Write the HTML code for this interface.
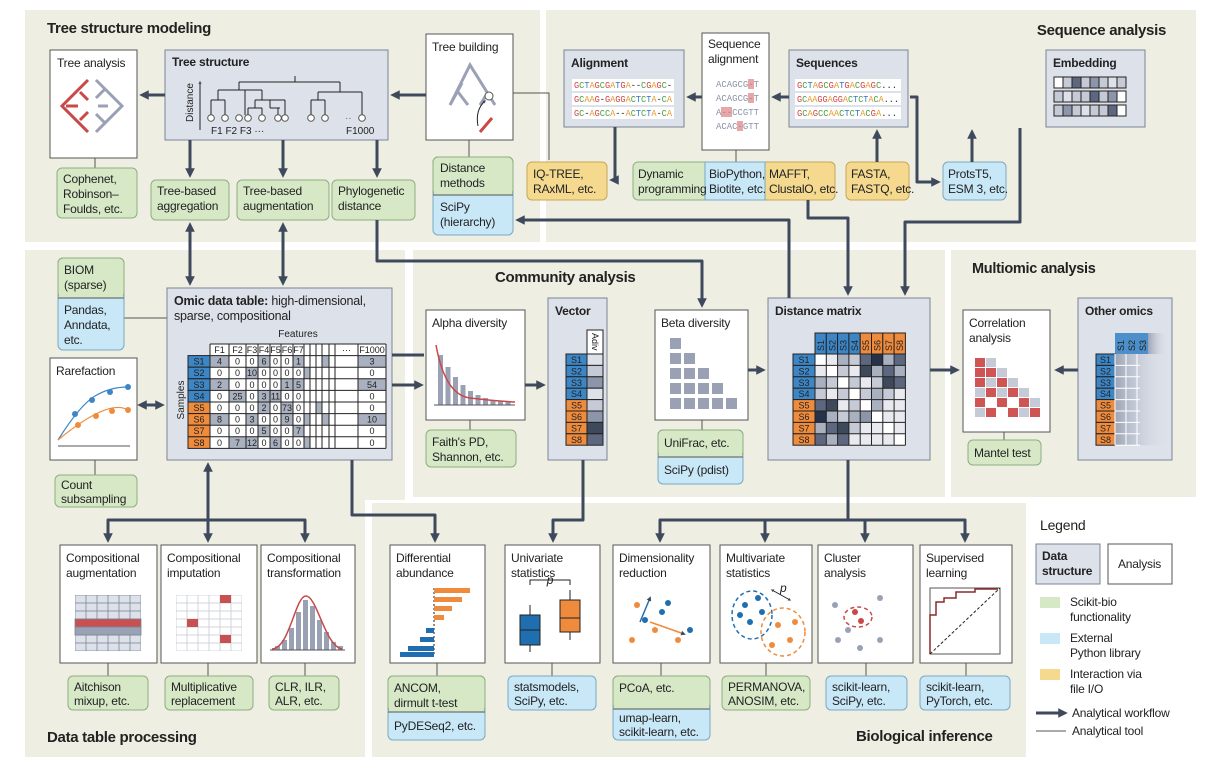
<!DOCTYPE html>
<html><head><meta charset="utf-8">
<style>
html,body{margin:0;padding:0;background:#fff;}
svg{display:block;font-family:"Liberation Sans",Arial,sans-serif;}
text{font-size:12px;fill:#222;letter-spacing:-0.2px;}
.h{font-weight:bold;font-size:15px;letter-spacing:-0.3px;}
.bt{font-weight:bold;}
.s9{font-size:9px;letter-spacing:0;}
.s10{font-size:10px;letter-spacing:0;}
.m{font-family:"Liberation Mono",monospace;font-size:9.5px;letter-spacing:0;}
.be{fill:#eeeee2;}
.g{fill:#d6e8c6;stroke:#8fae7d;}
.b{fill:#c8e7f7;stroke:#7aa9c3;}
.y{fill:#f4d98f;stroke:#c9a756;}
.w{fill:#fff;stroke:#555;}
.d{fill:#dde1ea;stroke:#7a8496;}
.a{fill:none;stroke:#3e4a5c;stroke-width:3;stroke-linejoin:round;}
.t{fill:none;stroke:#555;stroke-width:1;}
.k{fill:none;stroke:#222;stroke-width:1;}
.bl{fill:#3d86c6;stroke:#222;}
.or{fill:#ef8b3c;stroke:#222;}
.gr{fill:#a9b0bf;}
.R{fill:#d24545;}.N{fill:#4aa043;}.U{fill:#2f78c2;}.O{fill:#e49a2c;}
.L{fill:#e8eaf0}.M{fill:#c5cad6}.NN{fill:#a9b0bf}.D{fill:#8c95a9}.E{fill:#5d6880}.F{fill:#3e4a5c}.K{fill:#26324a}.W{fill:#fff}
</style>
</head><body>
<svg width="1216" height="772" viewBox="0 0 1216 772" xmlns="http://www.w3.org/2000/svg">
<defs>
<marker id="a" viewBox="0 0 10 10" refX="6" refY="5" markerWidth="3.2" markerHeight="3.2" orient="auto-start-reverse"><path d="M0,0L10,5L0,10z" fill="#3e4a5c"/></marker>
<linearGradient id="fade" x1="0" x2="1"><stop offset="0" stop-color="#8c95a9" stop-opacity="0.8"/><stop offset="1" stop-color="#dde1ea" stop-opacity="0"/></linearGradient>
<pattern id="grid1" width="11" height="8" patternUnits="userSpaceOnUse" x="75" y="595"><rect width="11" height="8" fill="#dde1ea" stroke="#7a8496" stroke-width="0.8"/></pattern>
<pattern id="grid2" width="11" height="8" patternUnits="userSpaceOnUse" x="176" y="595"><rect width="11" height="8" fill="#fff" stroke="#c5cad6" stroke-width="0.8"/></pattern>
</defs>

<!-- panels -->
<rect class="be" x="25" y="10" width="515" height="232"/>
<rect class="be" x="546" y="10" width="650" height="232"/>
<rect class="be" x="25" y="250" width="380" height="250"/>
<rect class="be" x="25" y="250" width="340" height="507"/>
<rect class="be" x="413" y="250" width="532" height="247"/>
<rect class="be" x="951" y="250" width="245" height="247"/>
<rect class="be" x="372" y="503" width="654" height="254"/>
<text class="h" x="47" y="33">Tree structure modeling</text>
<text class="h" x="1166" y="35" text-anchor="end">Sequence analysis</text>
<text class="h" x="495" y="282">Community analysis</text>
<text class="h" x="972" y="273" style="font-size:14.5px">Multiomic analysis</text>
<text class="h" x="47" y="742">Data table processing</text>
<text class="h" x="856" y="741">Biological inference</text>

<!-- thin tool lines -->
<path class="t" d="M95,158V168M469,140V157M513,93H549V160M736,150V162M124,318H167M95,460V475M1004,432V440M702,420V430M470,420V430M108,663V676M208,663V676M305,663V676M437,663V676M552,663V676M661,663V676M766,663V676M866,663V676M966,663V676"/>

<!-- ===== Tree panel ===== -->
<rect class="w" x="50" y="50" width="87" height="108"/>
<text x="57" y="67">Tree analysis</text>
<path d="M88,80L62,106L88,132M70,98L80,88M70,114L80,124M66,106H78M80,92L88,100M80,120L88,112" fill="none" stroke="#c94848" stroke-width="3"/>
<path d="M96,80L122,106L96,132M104,90L96,98M104,122L96,114M108,106H98M114,98L106,90M114,114L106,122" fill="none" stroke="#9aa1b4" stroke-width="3"/>

<rect class="d" x="165" y="50" width="223" height="90"/>
<text class="bt" x="172" y="66">Tree structure</text>
<path d="M200,130V82" class="k" marker-end="url(#a)"/>
<text class="s10" x="193" y="122" transform="rotate(-90 193 122)">Distance</text>
<path class="k" d="M295,76V82M239,82H340M239,82V90M218,90H262M218,90V100M211,100H225M211,100V115M225,100V115M245,90V115M262,90V100M255,100H285M255,100V108M285,100V115M248,108H262M248,108V115M262,108V115M270,100V108M270,108H280M278,108V115M340,82V92M318,92H362M318,92V100M311,100H325M311,100V115M325,100V115M362,92V115"/>
<g fill="#fff" stroke="#555"><circle cx="211" cy="118" r="3.3"/><circle cx="225" cy="118" r="3.3"/><circle cx="239" cy="118" r="3.3"/><circle cx="248" cy="118" r="3.3"/><circle cx="262" cy="118" r="3.3"/><circle cx="278" cy="118" r="3.3"/><circle cx="285" cy="118" r="3.3"/><circle cx="311" cy="118" r="3.3"/><circle cx="325" cy="118" r="3.3"/><circle cx="362" cy="118" r="3.3"/></g>
<text class="s10" x="345" y="121" style="fill:#666">··</text>
<text class="s10" x="211" y="134">F1  F2  F3  ···</text>
<text class="s10" x="346" y="134">F1000</text>

<rect class="w" x="426" y="34" width="87" height="106"/>
<text x="432" y="51">Tree building</text>
<path d="M450,105L470,65L495,105M462,83L450,105M458,92L468,105M488,92L480,105" fill="none" stroke="#9aa1b4" stroke-width="3"/>
<circle cx="489" cy="96" r="4" fill="#fff" stroke="#555"/>
<path class="k" d="M478,126Q475,110,485,101" marker-end="url(#a)"/>
<path d="M480,132L492,118" stroke="#c94848" stroke-width="3"/>

<rect class="g" x="57" y="168" width="80" height="50" rx="5"/>
<text x="63" y="183">Cophenet,</text><text x="63" y="198">Robinson–</text><text x="63" y="213">Foulds, etc.</text>
<rect class="g" x="151" y="180" width="78" height="40" rx="5"/>
<text x="157" y="195">Tree-based</text><text x="157" y="210">aggregation</text>
<rect class="g" x="237" y="180" width="92" height="40" rx="5"/>
<text x="243" y="195">Tree-based</text><text x="243" y="210">augmentation</text>
<rect class="g" x="332" y="180" width="83" height="40" rx="5"/>
<text x="338" y="195">Phylogenetic</text><text x="338" y="210">distance</text>
<rect class="b" x="433" y="157" width="80" height="78" rx="5"/>
<rect class="g" x="433" y="157" width="80" height="38" rx="5"/>
<rect fill="#d6e8c6" x="434" y="188" width="78" height="7"/>
<path class="t" d="M433,195H513"/>
<text x="440" y="172">Distance</text><text x="440" y="187">methods</text>
<text x="440" y="211">SciPy</text><text x="440" y="226">(hierarchy)</text>
<rect class="y" x="527" y="162" width="80" height="38" rx="5"/>
<text x="533" y="178">IQ-TREE,</text><text x="533" y="193">RAxML, etc.</text>

<!-- ===== Sequence panel ===== -->
<rect class="d" x="564" y="50" width="120" height="77"/>
<text class="bt" x="571" y="67">Alignment</text>
<rect fill="#fff" x="572" y="79" width="102" height="12"/><rect fill="#fff" x="572" y="93" width="102" height="12"/><rect fill="#fff" x="572" y="107" width="102" height="12"/>
<text class="m" x="574" y="88" textLength="98" lengthAdjust="spacingAndGlyphs"><tspan class="R">G</tspan><tspan class="N">C</tspan><tspan class="U">T</tspan><tspan class="O">A</tspan><tspan class="R">G</tspan><tspan class="N">C</tspan><tspan class="R">G</tspan><tspan class="O">A</tspan><tspan class="U">T</tspan><tspan class="R">G</tspan><tspan class="O">A</tspan>--<tspan class="N">C</tspan><tspan class="R">G</tspan><tspan class="O">A</tspan><tspan class="R">G</tspan><tspan class="N">C</tspan>-</text>
<text class="m" x="574" y="102" textLength="98" lengthAdjust="spacingAndGlyphs"><tspan class="R">G</tspan><tspan class="N">C</tspan><tspan class="O">AA</tspan><tspan class="R">G</tspan>-<tspan class="R">G</tspan><tspan class="O">A</tspan><tspan class="R">GG</tspan><tspan class="O">A</tspan><tspan class="N">C</tspan><tspan class="U">T</tspan><tspan class="N">C</tspan><tspan class="U">T</tspan><tspan class="O">A</tspan>-<tspan class="N">C</tspan><tspan class="O">A</tspan></text>
<text class="m" x="574" y="116" textLength="98" lengthAdjust="spacingAndGlyphs"><tspan class="R">G</tspan><tspan class="N">C</tspan>-<tspan class="O">A</tspan><tspan class="R">G</tspan><tspan class="N">CC</tspan><tspan class="O">A</tspan>--<tspan class="O">A</tspan><tspan class="N">C</tspan><tspan class="U">T</tspan><tspan class="N">C</tspan><tspan class="U">T</tspan><tspan class="O">A</tspan>-<tspan class="N">C</tspan><tspan class="O">A</tspan></text>

<rect class="w" x="702" y="33" width="67" height="117"/>
<text x="708" y="48">Sequence</text><text x="708" y="63">alignment</text>
<rect fill="#e8a6a6" x="748" y="79" width="6" height="10"/><rect fill="#e8a6a6" x="748" y="93" width="6" height="10"/><rect fill="#e8a6a6" x="721" y="107" width="11" height="10"/><rect fill="#e8a6a6" x="737" y="121" width="6" height="10"/>
<text class="m" x="716" y="87" textLength="43" lengthAdjust="spacingAndGlyphs" style="fill:#8a93a8">ACAGCG-T</text>
<text class="m" x="716" y="101" textLength="43" lengthAdjust="spacingAndGlyphs" style="fill:#8a93a8">ACAGCG-T</text>
<text class="m" x="716" y="115" textLength="43" lengthAdjust="spacingAndGlyphs" style="fill:#8a93a8">A--CCGTT</text>
<text class="m" x="716" y="129" textLength="43" lengthAdjust="spacingAndGlyphs" style="fill:#8a93a8">ACAC-GTT</text>

<rect class="d" x="789" y="50" width="119" height="77"/>
<text class="bt" x="796" y="67">Sequences</text>
<rect fill="#fff" x="795" y="79" width="106" height="12"/><rect fill="#fff" x="795" y="93" width="106" height="12"/><rect fill="#fff" x="795" y="107" width="106" height="12"/>
<text class="m" x="797" y="88" textLength="100" lengthAdjust="spacingAndGlyphs"><tspan class="R">G</tspan><tspan class="N">C</tspan><tspan class="U">T</tspan><tspan class="O">A</tspan><tspan class="R">G</tspan><tspan class="N">C</tspan><tspan class="R">G</tspan><tspan class="O">A</tspan><tspan class="U">T</tspan><tspan class="R">G</tspan><tspan class="O">A</tspan><tspan class="N">C</tspan><tspan class="R">G</tspan><tspan class="O">A</tspan><tspan class="R">G</tspan><tspan class="N">C</tspan>...</text>
<text class="m" x="797" y="102" textLength="102" lengthAdjust="spacingAndGlyphs"><tspan class="R">G</tspan><tspan class="N">C</tspan><tspan class="O">AA</tspan><tspan class="R">GG</tspan><tspan class="O">A</tspan><tspan class="R">GG</tspan><tspan class="O">A</tspan><tspan class="N">C</tspan><tspan class="U">T</tspan><tspan class="N">C</tspan><tspan class="U">T</tspan><tspan class="O">A</tspan><tspan class="N">C</tspan><tspan class="O">A</tspan>...</text>
<text class="m" x="797" y="116" textLength="100" lengthAdjust="spacingAndGlyphs"><tspan class="R">G</tspan><tspan class="N">C</tspan><tspan class="O">A</tspan><tspan class="R">G</tspan><tspan class="N">CC</tspan><tspan class="O">AA</tspan><tspan class="N">C</tspan><tspan class="U">T</tspan><tspan class="N">C</tspan><tspan class="U">T</tspan><tspan class="O">A</tspan><tspan class="N">C</tspan><tspan class="R">G</tspan><tspan class="O">A</tspan>...</text>

<rect class="d" x="1046" y="50" width="99" height="77"/>
<text class="bt" x="1053" y="67">Embedding</text>
<rect fill="#c5cad6" x="1054" y="77" width="72" height="11"/><rect fill="#c5cad6" x="1054" y="91" width="72" height="11"/><rect fill="#c5cad6" x="1054" y="105" width="72" height="11"/>
<rect fill="#fff" x="1054" y="77" width="9" height="11"/><rect fill="#5d6880" x="1072" y="77" width="9" height="11"/><rect fill="#8c95a9" x="1090" y="77" width="9" height="11"/><rect fill="#dde1ea" x="1108" y="77" width="9" height="11"/>
<rect fill="#dde1ea" x="1063" y="91" width="9" height="11"/><rect fill="#5d6880" x="1090" y="91" width="9" height="11"/><rect fill="#8c95a9" x="1108" y="91" width="9" height="11"/><rect fill="#fff" x="1117" y="91" width="9" height="11"/>
<rect fill="#8c95a9" x="1063" y="105" width="9" height="11"/><rect fill="#dde1ea" x="1081" y="105" width="9" height="11"/><rect fill="#5d6880" x="1108" y="105" width="9" height="11"/><rect fill="#fff" x="1117" y="105" width="9" height="11"/>
<path class="k" d="M1054,77h72v11h-72zM1054,91h72v11h-72zM1054,105h72v11h-72zM1063,77V88M1072,77V88M1081,77V88M1090,77V88M1099,77V88M1108,77V88M1117,77V88M1063,91V102M1072,91V102M1081,91V102M1090,91V102M1099,91V102M1108,91V102M1117,91V102M1063,105V116M1072,105V116M1081,105V116M1090,105V116M1099,105V116M1108,105V116M1117,105V116"/>

<rect class="g" x="633" y="162" width="202" height="38" rx="5"/>
<rect class="y" x="765" y="162" width="70" height="38" rx="5"/>
<rect fill="#f4d98f" x="765.5" y="162.5" width="10" height="37"/>
<rect class="b" x="705" y="162" width="60" height="38"/>
<text x="638" y="178">Dynamic</text><text x="638" y="193">programming</text>
<text x="709" y="178">BioPython,</text><text x="709" y="193">Biotite, etc.</text>
<text x="769" y="178">MAFFT,</text><text x="769" y="193">ClustalO, etc.</text>
<rect class="y" x="846" y="162" width="63" height="38" rx="5"/>
<text x="851" y="178">FASTA,</text><text x="851" y="193">FASTQ, etc.</text>
<rect class="b" x="943" y="162" width="63" height="38" rx="5"/>
<text x="948" y="178">ProtsT5,</text><text x="948" y="193">ESM 3, etc.</text>

<!-- ===== Data table panel ===== -->
<rect class="b" x="58" y="258" width="66" height="92" rx="5"/>
<rect class="g" x="58" y="258" width="66" height="40" rx="5"/>
<rect fill="#d6e8c6" x="59" y="290" width="64" height="8"/>
<path class="t" d="M58,298H124"/>
<text x="64" y="274">BIOM</text><text x="64" y="289">(sparse)</text>
<text x="64" y="314">Pandas,</text><text x="64" y="329">Anndata,</text><text x="64" y="344">etc.</text>

<rect class="d" x="167" y="288" width="225" height="172"/>
<text x="174" y="305" style="font-size:12.5px"><tspan class="bt">Omic data table:</tspan> high-dimensional,</text>
<text x="174" y="320" style="font-size:12.5px">sparse, compositional</text>
<text class="s10" x="298" y="337" text-anchor="middle">Features</text>
<text class="s10" x="184" y="400" text-anchor="middle" transform="rotate(-90 184 400)">Samples</text>
<rect fill="#fff" x="210" y="344" width="176" height="104.4"/>
<g class="gr">
<rect x="210" y="355.6" width="19" height="11.6"/><rect x="258" y="355.6" width="12" height="11.6"/><rect x="293" y="355.6" width="11" height="11.6"/><rect x="358" y="355.6" width="28" height="11.6"/><rect x="322" y="355.6" width="7" height="11.6"/>
<rect x="246" y="367.2" width="12" height="11.6"/><rect x="304" y="367.2" width="6" height="11.6"/>
<rect x="210" y="378.8" width="19" height="11.6"/><rect x="281" y="378.8" width="12" height="11.6"/><rect x="293" y="378.8" width="11" height="11.6"/><rect x="358" y="378.8" width="28" height="11.6"/>
<rect x="229" y="390.4" width="17" height="11.6"/><rect x="258" y="390.4" width="12" height="11.6"/><rect x="270" y="390.4" width="11" height="11.6"/>
<rect x="258" y="402" width="12" height="11.6"/><rect x="281" y="402" width="12" height="11.6"/><rect x="316" y="402" width="6" height="11.6"/>
<rect x="210" y="413.6" width="19" height="11.6"/><rect x="246" y="413.6" width="12" height="11.6"/><rect x="281" y="413.6" width="12" height="11.6"/><rect x="358" y="413.6" width="28" height="11.6"/><rect x="304" y="413.6" width="6" height="11.6"/><rect x="322" y="413.6" width="7" height="11.6"/>
<rect x="258" y="425.2" width="12" height="11.6"/><rect x="293" y="425.2" width="11" height="11.6"/>
<rect x="229" y="436.8" width="17" height="11.6"/><rect x="246" y="436.8" width="12" height="11.6"/><rect x="270" y="436.8" width="11" height="11.6"/><rect x="304" y="436.8" width="6" height="11.6"/>
</g>
<rect class="bl" x="188" y="355.6" width="22" height="11.6"/><rect class="bl" x="188" y="367.2" width="22" height="11.6"/><rect class="bl" x="188" y="378.8" width="22" height="11.6"/><rect class="bl" x="188" y="390.4" width="22" height="11.6"/>
<rect class="or" x="188" y="402" width="22" height="11.6"/><rect class="or" x="188" y="413.6" width="22" height="11.6"/><rect class="or" x="188" y="425.2" width="22" height="11.6"/><rect class="or" x="188" y="436.8" width="22" height="11.6"/>
<path class="k" d="M210,344H386M210,355.6H386M210,367.2H386M210,378.8H386M210,390.4H386M210,402H386M210,413.6H386M210,425.2H386M210,436.8H386M210,448.4H386M210,344V448.4M229,344V448.4M246,344V448.4M258,344V448.4M270,344V448.4M281,344V448.4M293,344V448.4M304,344V448.4M310,344V448.4M316,344V448.4M322,344V448.4M329,344V448.4M335,344V448.4M358,344V448.4M386,344V448.4"/>
<g text-anchor="middle">
<text class="s9" y="353"><tspan x="219.5">F1</tspan><tspan x="237.5">F2</tspan><tspan x="252">F3</tspan><tspan x="264">F4</tspan><tspan x="275.5">F5</tspan><tspan x="287">F6</tspan><tspan x="298.5">F7</tspan><tspan x="346.5">···</tspan><tspan x="372">F1000</tspan></text>
<text class="s9" y="364.6"><tspan x="199">S1</tspan><tspan x="219.5">4</tspan><tspan x="237.5">0</tspan><tspan x="252">0</tspan><tspan x="264">6</tspan><tspan x="275.5">0</tspan><tspan x="287">0</tspan><tspan x="298.5">1</tspan><tspan x="372">3</tspan></text>
<text class="s9" y="376.2"><tspan x="199">S2</tspan><tspan x="219.5">0</tspan><tspan x="237.5">0</tspan><tspan x="252">10</tspan><tspan x="264">0</tspan><tspan x="275.5">0</tspan><tspan x="287">0</tspan><tspan x="298.5">0</tspan><tspan x="372">0</tspan></text>
<text class="s9" y="387.8"><tspan x="199">S3</tspan><tspan x="219.5">2</tspan><tspan x="237.5">0</tspan><tspan x="252">0</tspan><tspan x="264">0</tspan><tspan x="275.5">0</tspan><tspan x="287">1</tspan><tspan x="298.5">5</tspan><tspan x="372">54</tspan></text>
<text class="s9" y="399.4"><tspan x="199">S4</tspan><tspan x="219.5">0</tspan><tspan x="237.5">25</tspan><tspan x="252">0</tspan><tspan x="264">3</tspan><tspan x="275.5">11</tspan><tspan x="287">0</tspan><tspan x="298.5">0</tspan><tspan x="372">0</tspan></text>
<text class="s9" y="411"><tspan x="199">S5</tspan><tspan x="219.5">0</tspan><tspan x="237.5">0</tspan><tspan x="252">0</tspan><tspan x="264">2</tspan><tspan x="275.5">0</tspan><tspan x="287">73</tspan><tspan x="298.5">0</tspan><tspan x="372">0</tspan></text>
<text class="s9" y="422.6"><tspan x="199">S6</tspan><tspan x="219.5">8</tspan><tspan x="237.5">0</tspan><tspan x="252">3</tspan><tspan x="264">0</tspan><tspan x="275.5">0</tspan><tspan x="287">9</tspan><tspan x="298.5">0</tspan><tspan x="372">10</tspan></text>
<text class="s9" y="434.2"><tspan x="199">S7</tspan><tspan x="219.5">0</tspan><tspan x="237.5">0</tspan><tspan x="252">0</tspan><tspan x="264">5</tspan><tspan x="275.5">0</tspan><tspan x="287">0</tspan><tspan x="298.5">7</tspan><tspan x="372">0</tspan></text>
<text class="s9" y="445.8"><tspan x="199">S8</tspan><tspan x="219.5">0</tspan><tspan x="237.5">7</tspan><tspan x="252">12</tspan><tspan x="264">0</tspan><tspan x="275.5">6</tspan><tspan x="287">0</tspan><tspan x="298.5">0</tspan><tspan x="372">0</tspan></text>
</g>

<rect class="w" x="50" y="358" width="87" height="102"/>
<text x="56" y="375">Rarefaction</text>
<path class="t" d="M58,446H130"/>
<path d="M58,440Q80,405,95,396T128,387" fill="none" stroke="#3d86c6" stroke-width="1.2"/>
<path d="M58,440Q82,420,100,412T128,410" fill="none" stroke="#ef8b3c" stroke-width="1.2"/>
<g fill="#3d86c6"><circle cx="75" cy="414" r="3"/><circle cx="92" cy="400" r="3"/><circle cx="110" cy="392" r="3"/><circle cx="128" cy="387" r="3"/></g>
<g fill="#ef8b3c"><circle cx="78" cy="425" r="3"/><circle cx="96" cy="416" r="3"/><circle cx="112" cy="411" r="3"/><circle cx="128" cy="410" r="3"/></g>
<rect class="g" x="55" y="475" width="82" height="32" rx="5"/>
<text x="61" y="489">Count</text><text x="61" y="503">subsampling</text>

<!-- compositional -->
<rect class="w" x="60" y="545" width="97" height="118"/>
<text x="66" y="562">Compositional</text><text x="66" y="577">augmentation</text>
<rect x="75" y="595" width="66" height="56" fill="url(#grid1)"/>
<rect x="75" y="619" width="66" height="8" fill="#c95050" stroke="#7a8496" stroke-width="0.8"/>
<rect x="75" y="627" width="66" height="8" fill="#9aa1b4" stroke="#7a8496" stroke-width="0.8"/>
<rect class="w" x="161" y="545" width="96" height="118"/>
<text x="167" y="562">Compositional</text><text x="167" y="577">imputation</text>
<rect x="176" y="595" width="66" height="56" fill="url(#grid2)"/>
<rect fill="#c95050" x="220" y="595" width="11" height="8"/><rect fill="#c95050" x="187" y="619" width="11" height="8"/><rect fill="#c95050" x="220" y="635" width="11" height="8"/>
<rect class="w" x="261" y="545" width="94" height="118"/>
<text x="267" y="562">Compositional</text><text x="267" y="577">transformation</text>
<g fill="#9aa1b4"><rect x="275" y="646" width="5" height="4"/><rect x="282" y="640" width="5" height="10"/><rect x="289" y="628" width="5" height="22"/><rect x="296" y="612" width="5" height="38"/><rect x="303" y="600" width="5" height="50"/><rect x="310" y="606" width="5" height="44"/><rect x="317" y="620" width="5" height="30"/><rect x="324" y="632" width="5" height="18"/><rect x="331" y="642" width="5" height="8"/><rect x="338" y="646" width="5" height="4"/></g>
<path d="M272,649C290,648,295,596,306,596S325,646,342,649" fill="none" stroke="#c94848" stroke-width="1.5"/>
<path class="t" d="M270,650H345"/>
<rect class="g" x="68" y="676" width="80" height="34" rx="5"/><text x="74" y="691">Aitchison</text><text x="74" y="705">mixup, etc.</text>
<rect class="g" x="165" y="676" width="88" height="34" rx="5"/><text x="171" y="691">Multiplicative</text><text x="171" y="705">replacement</text>
<rect class="g" x="269" y="676" width="70" height="34" rx="5"/><text x="275" y="691">CLR, ILR,</text><text x="275" y="705">ALR, etc.</text>

<!-- ===== Community ===== -->
<rect class="w" x="426" y="310" width="99" height="110"/>
<text x="432" y="327">Alpha diversity</text>
<g fill="#9aa1b4"><rect x="438" y="355" width="5" height="50"/><rect x="445.5" y="367" width="5" height="38"/><rect x="453" y="377" width="5" height="28"/><rect x="460.5" y="385" width="5" height="20"/><rect x="468" y="391" width="5" height="14"/><rect x="475.5" y="395" width="5" height="10"/><rect x="483" y="398" width="5" height="7"/><rect x="490.5" y="400" width="5" height="5"/><rect x="498" y="401" width="5" height="4"/><rect x="505.5" y="402" width="5" height="3"/></g>
<path d="M436,345Q445,395,470,398T515,402" fill="none" stroke="#c94848" stroke-width="1.5"/>
<path class="t" d="M434,405H515"/>
<rect class="g" x="426" y="430" width="90" height="37" rx="5"/><text x="432" y="446">Faith's PD,</text><text x="432" y="461">Shannon, etc.</text>

<rect class="d" x="548" y="298" width="59" height="162"/>
<text class="bt" x="555" y="315">Vector</text>
<rect fill="#fff" stroke="#222" x="587" y="330" width="16" height="24"/>
<text class="s9" x="592" y="333" transform="rotate(90 592 333)">Adiv</text>
<rect class="bl" x="566" y="354" width="21" height="11.4"/><rect class="bl" x="566" y="365.4" width="21" height="11.4"/><rect class="bl" x="566" y="376.8" width="21" height="11.4"/><rect class="bl" x="566" y="388.2" width="21" height="11.4"/>
<rect class="or" x="566" y="399.6" width="21" height="11.4"/><rect class="or" x="566" y="411" width="21" height="11.4"/><rect class="or" x="566" y="422.4" width="21" height="11.4"/><rect class="or" x="566" y="433.8" width="21" height="11.4"/>
<g stroke="#222"><rect fill="#dde1ea" x="587" y="354" width="16" height="11.4"/><rect fill="#c5cad6" x="587" y="365.4" width="16" height="11.4"/><rect fill="#8c95a9" x="587" y="376.8" width="16" height="11.4"/><rect fill="#dde1ea" x="587" y="388.2" width="16" height="11.4"/><rect fill="#c5cad6" x="587" y="399.6" width="16" height="11.4"/><rect fill="#8c95a9" x="587" y="411" width="16" height="11.4"/><rect fill="#3e4a5c" x="587" y="422.4" width="16" height="11.4"/><rect fill="#5d6880" x="587" y="433.8" width="16" height="11.4"/></g>
<text class="s9" text-anchor="middle"><tspan x="576.5" y="363">S1</tspan><tspan x="576.5" y="374.4">S2</tspan><tspan x="576.5" y="385.8">S3</tspan><tspan x="576.5" y="397.2">S4</tspan><tspan x="576.5" y="408.6">S5</tspan><tspan x="576.5" y="420">S6</tspan><tspan x="576.5" y="431.4">S7</tspan><tspan x="576.5" y="442.8">S8</tspan></text>

<rect class="w" x="655" y="310" width="93" height="110"/>
<text x="661" y="327">Beta diversity</text>
<g fill="#9aa1b4"><rect x="670" y="338" width="11" height="11"/><rect x="670" y="353" width="11" height="11"/><rect x="684" y="353" width="11" height="11"/><rect x="670" y="368" width="11" height="11"/><rect x="684" y="368" width="11" height="11"/><rect x="698" y="368" width="11" height="11"/><rect x="670" y="383" width="11" height="11"/><rect x="684" y="383" width="11" height="11"/><rect x="698" y="383" width="11" height="11"/><rect x="712" y="383" width="11" height="11"/><rect x="670" y="398" width="11" height="11"/><rect x="684" y="398" width="11" height="11"/><rect x="698" y="398" width="11" height="11"/><rect x="712" y="398" width="11" height="11"/><rect x="726" y="398" width="11" height="11"/></g>
<rect class="b" x="658" y="430" width="85" height="54" rx="5"/>
<rect class="g" x="658" y="430" width="85" height="27" rx="5"/>
<rect fill="#d6e8c6" x="659" y="450" width="83" height="7"/>
<path class="t" d="M658,457H743"/>
<text x="664" y="447">UniFrac, etc.</text><text x="664" y="474">SciPy (pdist)</text>

<rect class="d" x="768" y="298" width="162" height="162"/>
<text class="bt" x="775" y="315">Distance matrix</text>
<rect class="bl" x="815" y="333" width="11.3" height="21"/><rect class="bl" x="826.3" y="333" width="11.3" height="21"/><rect class="bl" x="837.6" y="333" width="11.3" height="21"/><rect class="bl" x="848.9" y="333" width="11.3" height="21"/>
<rect class="or" x="860.2" y="333" width="11.3" height="21"/><rect class="or" x="871.5" y="333" width="11.3" height="21"/><rect class="or" x="882.8" y="333" width="11.3" height="21"/><rect class="or" x="894.1" y="333" width="11.3" height="21"/>
<text class="s9" x="824" y="351" transform="rotate(-90 824 351)">S1</text><text class="s9" x="835.3" y="351" transform="rotate(-90 835.3 351)">S2</text><text class="s9" x="846.6" y="351" transform="rotate(-90 846.6 351)">S3</text><text class="s9" x="857.9" y="351" transform="rotate(-90 857.9 351)">S4</text><text class="s9" x="869.2" y="351" transform="rotate(-90 869.2 351)">S5</text><text class="s9" x="880.5" y="351" transform="rotate(-90 880.5 351)">S6</text><text class="s9" x="891.8" y="351" transform="rotate(-90 891.8 351)">S7</text><text class="s9" x="903.1" y="351" transform="rotate(-90 903.1 351)">S8</text>
<rect class="bl" x="793" y="354" width="22" height="11.4"/><rect class="bl" x="793" y="365.4" width="22" height="11.4"/><rect class="bl" x="793" y="376.8" width="22" height="11.4"/><rect class="bl" x="793" y="388.2" width="22" height="11.4"/>
<rect class="or" x="793" y="399.6" width="22" height="11.4"/><rect class="or" x="793" y="411" width="22" height="11.4"/><rect class="or" x="793" y="422.4" width="22" height="11.4"/><rect class="or" x="793" y="433.8" width="22" height="11.4"/>
<text class="s9" text-anchor="middle"><tspan x="804" y="363">S1</tspan><tspan x="804" y="374.4">S2</tspan><tspan x="804" y="385.8">S3</tspan><tspan x="804" y="397.2">S4</tspan><tspan x="804" y="408.6">S5</tspan><tspan x="804" y="420">S6</tspan><tspan x="804" y="431.4">S7</tspan><tspan x="804" y="442.8">S8</tspan></text>
<rect class="L" x="815" y="354" width="90.4" height="91.2"/>
<rect class="W" x="815" y="354" width="11.3" height="11.4"/><rect class="NN" x="837.6" y="354" width="11.3" height="11.4"/><rect class="M" x="848.9" y="354" width="11.3" height="11.4"/><rect class="E" x="860.2" y="354" width="11.3" height="11.4"/><rect class="K" x="871.5" y="354" width="11.3" height="11.4"/><rect class="NN" x="882.8" y="354" width="11.3" height="11.4"/><rect class="E" x="894.1" y="354" width="11.3" height="11.4"/>
<rect class="W" x="826.3" y="365.4" width="11.3" height="11.4"/><rect class="M" x="837.6" y="365.4" width="11.3" height="11.4"/><rect class="F" x="860.2" y="365.4" width="11.3" height="11.4"/><rect class="NN" x="871.5" y="365.4" width="11.3" height="11.4"/><rect class="E" x="882.8" y="365.4" width="11.3" height="11.4"/><rect class="NN" x="894.1" y="365.4" width="11.3" height="11.4"/>
<rect class="NN" x="815" y="376.8" width="11.3" height="11.4"/><rect class="M" x="826.3" y="376.8" width="11.3" height="11.4"/><rect class="W" x="837.6" y="376.8" width="11.3" height="11.4"/><rect class="M" x="848.9" y="376.8" width="11.3" height="11.4"/><rect class="M" x="871.5" y="376.8" width="11.3" height="11.4"/><rect class="F" x="882.8" y="376.8" width="11.3" height="11.4"/><rect class="E" x="894.1" y="376.8" width="11.3" height="11.4"/>
<rect class="M" x="815" y="388.2" width="11.3" height="11.4"/><rect class="M" x="837.6" y="388.2" width="11.3" height="11.4"/><rect class="W" x="848.9" y="388.2" width="11.3" height="11.4"/><rect class="M" x="860.2" y="388.2" width="11.3" height="11.4"/><rect class="NN" x="871.5" y="388.2" width="11.3" height="11.4"/><rect class="M" x="882.8" y="388.2" width="11.3" height="11.4"/>
<rect class="E" x="815" y="399.6" width="11.3" height="11.4"/><rect class="F" x="826.3" y="399.6" width="11.3" height="11.4"/><rect class="M" x="848.9" y="399.6" width="11.3" height="11.4"/><rect class="W" x="860.2" y="399.6" width="11.3" height="11.4"/><rect class="NN" x="871.5" y="399.6" width="11.3" height="11.4"/>
<rect class="K" x="815" y="411" width="11.3" height="11.4"/><rect class="NN" x="826.3" y="411" width="11.3" height="11.4"/><rect class="M" x="837.6" y="411" width="11.3" height="11.4"/><rect class="NN" x="848.9" y="411" width="11.3" height="11.4"/><rect class="D" x="860.2" y="411" width="11.3" height="11.4"/><rect class="W" x="871.5" y="411" width="11.3" height="11.4"/>
<rect class="NN" x="815" y="422.4" width="11.3" height="11.4"/><rect class="E" x="826.3" y="422.4" width="11.3" height="11.4"/><rect class="F" x="837.6" y="422.4" width="11.3" height="11.4"/><rect class="M" x="848.9" y="422.4" width="11.3" height="11.4"/><rect class="W" x="882.8" y="422.4" width="11.3" height="11.4"/>
<rect class="E" x="815" y="433.8" width="11.3" height="11.4"/><rect class="NN" x="826.3" y="433.8" width="11.3" height="11.4"/><rect class="E" x="837.6" y="433.8" width="11.3" height="11.4"/><rect class="W" x="894.1" y="433.8" width="11.3" height="11.4"/>
<path class="k" d="M815,354H905.4M815,365.4H905.4M815,376.8H905.4M815,388.2H905.4M815,399.6H905.4M815,411H905.4M815,422.4H905.4M815,433.8H905.4M815,445.2H905.4M815,354V445.2M826.3,354V445.2M837.6,354V445.2M848.9,354V445.2M860.2,354V445.2M871.5,354V445.2M882.8,354V445.2M894.1,354V445.2M905.4,354V445.2"/>

<!-- Multiomic -->
<rect class="w" x="963" y="310" width="87" height="122"/>
<text x="969" y="327">Correlation</text><text x="969" y="342">analysis</text>
<g fill="#cf5454"><rect x="975" y="358" width="10" height="9"/><rect x="975" y="368" width="10" height="9"/><rect x="986" y="368" width="10" height="9"/><rect x="975" y="378" width="10" height="9"/><rect x="997" y="378" width="10" height="9"/><rect x="986" y="388" width="10" height="9"/><rect x="1008" y="388" width="10" height="9"/><rect x="975" y="398" width="10" height="9"/><rect x="997" y="398" width="10" height="9"/><rect x="1019" y="398" width="10" height="9"/><rect x="986" y="408" width="10" height="9"/><rect x="1008" y="408" width="10" height="9"/><rect x="1030" y="408" width="10" height="9"/></g>
<g fill="#c5cad6"><rect x="986" y="358" width="10" height="9"/><rect x="997" y="368" width="10" height="9"/><rect x="986" y="378" width="10" height="9"/><rect x="1008" y="378" width="10" height="9"/><rect x="975" y="388" width="10" height="9"/><rect x="997" y="388" width="10" height="9"/><rect x="1019" y="388" width="10" height="9"/><rect x="1030" y="398" width="10" height="9"/><rect x="975" y="408" width="10" height="9"/><rect x="1019" y="408" width="10" height="9"/></g>
<rect class="g" x="968" y="440" width="73" height="25" rx="5"/><text x="974" y="457">Mantel test</text>

<rect class="d" x="1078" y="298" width="94" height="162"/>
<text class="bt" x="1085" y="315">Other omics</text>
<rect x="1115" y="333" width="33" height="21" fill="#3d86c6" opacity="0.9"/>
<rect x="1148" y="333" width="20" height="21" fill="url(#fade)"/>
<text class="s9" x="1124" y="351" transform="rotate(-90 1124 351)">S1</text><text class="s9" x="1135" y="351" transform="rotate(-90 1135 351)">S2</text><text class="s9" x="1146" y="351" transform="rotate(-90 1146 351)">S3</text>
<rect class="bl" x="1096" y="354" width="19" height="11.4"/><rect class="bl" x="1096" y="365.4" width="19" height="11.4"/><rect class="bl" x="1096" y="376.8" width="19" height="11.4"/><rect class="bl" x="1096" y="388.2" width="19" height="11.4"/>
<rect class="or" x="1096" y="399.6" width="19" height="11.4"/><rect class="or" x="1096" y="411" width="19" height="11.4"/><rect class="or" x="1096" y="422.4" width="19" height="11.4"/><rect class="or" x="1096" y="433.8" width="19" height="11.4"/>
<text class="s9" text-anchor="middle"><tspan x="1105.5" y="363">S1</tspan><tspan x="1105.5" y="374.4">S2</tspan><tspan x="1105.5" y="385.8">S3</tspan><tspan x="1105.5" y="397.2">S4</tspan><tspan x="1105.5" y="408.6">S5</tspan><tspan x="1105.5" y="420">S6</tspan><tspan x="1105.5" y="431.4">S7</tspan><tspan x="1105.5" y="442.8">S8</tspan></text>
<rect x="1115" y="354" width="55" height="91.2" fill="url(#fade)"/>
<path d="M1115,354V445.2M1126,354V445.2M1137,354V445.2M1115,365.4H1140M1115,376.8H1140M1115,388.2H1140M1115,399.6H1140M1115,411H1140M1115,422.4H1140M1115,433.8H1140M1115,445.2H1140" stroke="#fff" stroke-width="1" fill="none"/>

<!-- ===== Bio inference ===== -->
<rect class="w" x="390" y="545" width="95" height="118"/>
<text x="396" y="562">Differential</text><text x="396" y="577">abundance</text>
<path class="k" d="M434,588V656" stroke-dasharray="2 2"/>
<g fill="#ef8b3c"><rect x="434" y="588" width="36" height="5"/><rect x="434" y="597" width="28" height="5"/><rect x="434" y="606" width="18" height="5"/><rect x="434" y="615" width="10" height="5"/></g>
<g fill="#1f6fb0"><rect x="426" y="628" width="8" height="5"/><rect x="420" y="637" width="14" height="5"/><rect x="408" y="646" width="26" height="5"/><rect x="400" y="652" width="34" height="5"/></g>
<rect class="b" x="388" y="676" width="97" height="64" rx="5"/>
<rect class="g" x="388" y="676" width="97" height="36" rx="5"/>
<rect fill="#d6e8c6" x="389" y="704" width="95" height="8"/>
<path class="t" d="M388,712H485"/>
<text x="394" y="692">ANCOM,</text><text x="394" y="707">dirmult t-test</text><text x="394" y="730">PyDESeq2, etc.</text>

<rect class="w" x="505" y="545" width="95" height="118"/>
<text x="511" y="562">Univariate</text><text x="511" y="577">statistics</text>
<path class="k" d="M530,605V615M530,645V652M570,590V600M570,632V640M530,585V580H570V585"/>
<rect fill="#1f6fb0" stroke="#222" x="520" y="615" width="20" height="30"/>
<rect fill="#ef8b3c" stroke="#222" x="560" y="600" width="20" height="32"/>
<path class="k" d="M520,630H540M560,618H580"/>
<text x="550" y="584" text-anchor="middle" style="font-style:italic">p</text>
<rect class="b" x="508" y="676" width="88" height="34" rx="5"/><text x="514" y="691">statsmodels,</text><text x="514" y="705">SciPy, etc.</text>

<rect class="w" x="613" y="545" width="97" height="118"/>
<text x="619" y="562">Dimensionality</text><text x="619" y="577">reduction</text>
<g fill="#1f6fb0"><circle cx="645" cy="620" r="3"/><circle cx="662" cy="612" r="3"/><circle cx="690" cy="630" r="3"/><circle cx="668" cy="603" r="3"/></g>
<g fill="#ef8b3c"><circle cx="637" cy="605" r="3"/><circle cx="655" cy="630" r="3"/><circle cx="678" cy="640" r="3"/><circle cx="632" cy="640" r="3"/></g>
<path d="M640,622L650,598" stroke="#1f6fb0" stroke-width="1.5" fill="none" marker-end="url(#a)"/>
<path d="M650,622L684,634" stroke="#ef8b3c" stroke-width="1.5" fill="none" marker-end="url(#a)"/>
<rect class="b" x="613" y="676" width="97" height="64" rx="5"/>
<rect class="g" x="613" y="676" width="97" height="33" rx="5"/>
<rect fill="#d6e8c6" x="614" y="701" width="95" height="8"/>
<path class="t" d="M613,709H710"/>
<text x="619" y="692">PCoA, etc.</text><text x="619" y="722">umap-learn,</text><text x="619" y="736">scikit-learn, etc.</text>

<rect class="w" x="720" y="545" width="92" height="118"/>
<text x="726" y="562">Multivariate</text><text x="726" y="577">statistics</text>
<ellipse cx="752" cy="615" rx="20" ry="24" fill="none" stroke="#1f6fb0" stroke-dasharray="4 3" stroke-width="1.5"/>
<ellipse cx="783" cy="632" rx="22" ry="24" fill="none" stroke="#ef8b3c" stroke-dasharray="4 3" stroke-width="1.5"/>
<g fill="#1f6fb0"><circle cx="745" cy="605" r="3"/><circle cx="758" cy="598" r="3"/><circle cx="750" cy="622" r="3"/><circle cx="740" cy="615" r="3"/><circle cx="762" cy="612" r="3"/></g>
<g fill="#ef8b3c"><circle cx="778" cy="625" r="3"/><circle cx="790" cy="640" r="3"/><circle cx="795" cy="622" r="3"/><circle cx="772" cy="645" r="3"/></g>
<path class="k" d="M772,590L790,600" marker-end="url(#a)" marker-start="url(#a)"/>
<text x="780" y="592" style="font-style:italic">p</text>
<rect class="g" x="722" y="676" width="88" height="34" rx="5"/><text x="728" y="691">PERMANOVA,</text><text x="728" y="705">ANOSIM, etc.</text>

<rect class="w" x="818" y="545" width="95" height="118"/>
<text x="824" y="562">Cluster</text><text x="824" y="577">analysis</text>
<ellipse cx="858" cy="617" rx="14" ry="10" fill="none" stroke="#c94848" stroke-dasharray="4 3" stroke-width="1.5"/>
<circle cx="855" cy="612" r="3" fill="#c94848"/><circle cx="861" cy="621" r="3" fill="#c94848"/>
<g fill="#9aa1b4"><circle cx="835" cy="605" r="3"/><circle cx="880" cy="598" r="3"/><circle cx="838" cy="640" r="3"/><circle cx="880" cy="640" r="3"/><circle cx="860" cy="648" r="3"/><circle cx="848" cy="630" r="3"/></g>
<rect class="b" x="826" y="676" width="81" height="34" rx="5"/><text x="832" y="691">scikit-learn,</text><text x="832" y="705">SciPy, etc.</text>

<rect class="w" x="920" y="545" width="92" height="118"/>
<text x="926" y="562">Supervised</text><text x="926" y="577">learning</text>
<rect class="w" x="930" y="588" width="70" height="66"/>
<path d="M930,654V615H936V602H944V598H956V592H975V589H998" fill="none" stroke="#8b2a2a" stroke-width="1.5"/>
<path d="M930,654L1000,588" fill="none" stroke="#222" stroke-dasharray="3 2"/>
<rect class="b" x="920" y="676" width="90" height="34" rx="5"/><text x="926" y="691">scikit-learn,</text><text x="926" y="705">PyTorch, etc.</text>

<!-- Legend -->
<text x="1040" y="530" style="font-size:14px">Legend</text>
<rect class="d" x="1036" y="544" width="64" height="40"/>
<text class="bt" x="1042" y="560">Data</text><text class="bt" x="1042" y="575">structure</text>
<rect class="w" x="1108" y="544" width="64" height="40"/>
<text x="1118" y="568">Analysis</text>
<rect fill="#d6e8c6" x="1040" y="597" width="20" height="11"/>
<text x="1070" y="606">Scikit-bio</text><text x="1070" y="621">functionality</text>
<rect fill="#c8e7f7" x="1040" y="633" width="20" height="11"/>
<text x="1070" y="642">External</text><text x="1070" y="657">Python library</text>
<rect fill="#f4d98f" x="1040" y="669" width="20" height="11"/>
<text x="1070" y="678">Interaction via</text><text x="1070" y="693">file I/O</text>
<path class="a" d="M1036,713H1064" marker-end="url(#a)"/>
<text x="1072" y="717">Analytical workflow</text>
<path class="t" d="M1036,731H1066"/>
<text x="1072" y="735">Analytical tool</text>

<!-- Arrows -->
<path class="a" d="M165,95H143" marker-end="url(#a)"/>
<path class="a" d="M426,95H394" marker-end="url(#a)"/>
<path class="a" d="M190,140V174" marker-end="url(#a)"/>
<path class="a" d="M283,140V174" marker-end="url(#a)"/>
<path class="a" d="M377,140V174" marker-end="url(#a)"/>
<path class="a" d="M190,226V282" marker-end="url(#a)" marker-start="url(#a)"/>
<path class="a" d="M283,226V282" marker-end="url(#a)" marker-start="url(#a)"/>
<path class="a" d="M377,220V261H702V304" marker-end="url(#a)"/>
<path class="a" d="M615,127V180H613" marker-end="url(#a)"/>
<path class="a" d="M702,97H690" marker-end="url(#a)"/>
<path class="a" d="M789,97H775" marker-end="url(#a)"/>
<path class="a" d="M877,162V133" marker-end="url(#a)"/>
<path class="a" d="M972,162V133" marker-end="url(#a)"/>
<path class="a" d="M910,97H917V182H937" marker-end="url(#a)"/>
<path class="a" d="M789,298V220H519" marker-end="url(#a)"/>
<path class="a" d="M808,200V218H848V292" marker-end="url(#a)"/>
<path class="a" d="M1020,128V222H905V292" marker-end="url(#a)"/>
<path class="a" d="M392,355H424"/>
<path class="a" d="M392,385H420" marker-end="url(#a)"/>
<path class="a" d="M525,385H542" marker-end="url(#a)"/>
<path class="a" d="M748,370H762" marker-end="url(#a)"/>
<path class="a" d="M930,370H956" marker-end="url(#a)"/>
<path class="a" d="M1078,370H1058" marker-end="url(#a)"/>
<path class="a" d="M141,405H161" marker-end="url(#a)" marker-start="url(#a)"/>
<path class="a" d="M208,520V466" marker-end="url(#a)"/>
<path class="a" d="M108,539V520H305V539" marker-end="url(#a)" marker-start="url(#a)"/>
<path class="a" d="M208,520V539" marker-end="url(#a)"/>
<path class="a" d="M352,460V515H435V539" marker-end="url(#a)"/>
<path class="a" d="M583,460V520H553V539" marker-end="url(#a)"/>
<path class="a" d="M848,460V520"/>
<path class="a" d="M660,539V520H965V539" marker-end="url(#a)" marker-start="url(#a)"/>
<path class="a" d="M765,520V539" marker-end="url(#a)"/>
<path class="a" d="M865,520V539" marker-end="url(#a)"/>
</svg>
</body></html>
